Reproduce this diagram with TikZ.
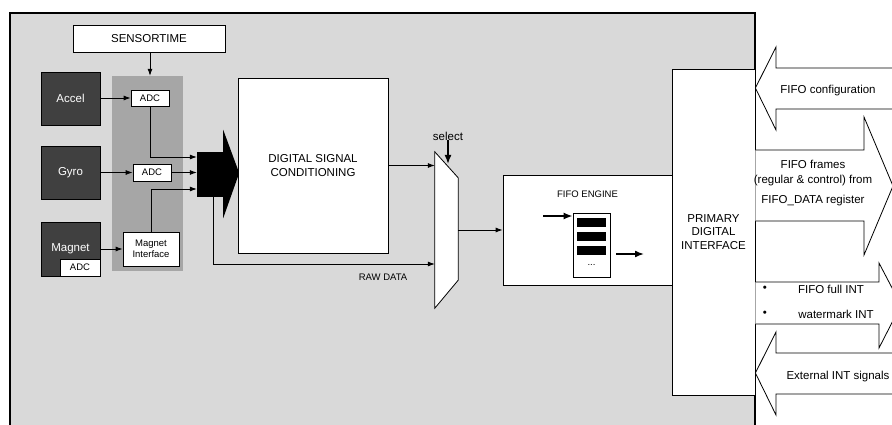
\documentclass[tikz,border=0pt]{standalone}
\usepackage{fontspec}
\setmainfont{Liberation Sans}
\usetikzlibrary{arrows.meta}
\definecolor{chipgrey}{RGB}{217,217,217}
\definecolor{panelgrey}{RGB}{166,166,166}
\definecolor{sensorgrey}{RGB}{64,64,64}
\newcommand{\bigfont}{\fontsize{11.5}{13.5}\selectfont}
\newcommand{\smallfont}{\fontsize{9.5}{11.5}\selectfont}

\begin{document}
\begin{tikzpicture}[x=1pt,y=-1pt,
        >={Latex[length=7pt,width=5pt]},
        every node/.style={inner sep=0pt, font=\bigfont},
        box/.style={draw, fill=white, line width=0.8pt},
        sensor/.style={box, fill=sensorgrey, text=white, minimum width=59pt, minimum height=53pt},
        adcbox/.style={box, font=\smallfont, minimum width=38pt, minimum height=16pt},
        bar/.style={fill=black, minimum width=29pt, minimum height=9pt},
        wire/.style={->, line width=0.8pt},
        fatwire/.style={-{Latex[length=9pt,width=7pt]}, line width=1.6pt},
        bigarrow/.style={draw, fill=white, line width=0.8pt}]
        \useasboundingbox (0,0) rectangle (892,425);
        % chip outline
        \draw[fill=chipgrey, line width=1.2pt] (10,440) -- (10,13) -- (755,13) -- (755,440);
        %\draw[help lines] (0,0) grid (892,425);
        \node[box, minimum width=152pt, minimum height=27pt] (sensortime) at (149,38.5) {SENSORTIME};
        \node[fill=panelgrey, minimum width=71pt, minimum height=195pt] (panel) at (147.5,173.5) {};
        % sensors
        \node[sensor] (accel) at (70.5,98.5) {Accel};
        \node[sensor] (gyro) at (70.5,172.5) {Gyro};
        \node[sensor, minimum height=54pt] (magnet) at (70.5,249) {Magnet};
        \node[adcbox, minimum width=40pt, minimum height=17pt, anchor=south east] (magadc) at (magnet.south east) {ADC};
        \node[adcbox] (adc1) at (150,98) {ADC};
        \node[adcbox, minimum height=17pt] (adc2) at (152,172.5) {ADC};
        \node[box, font=\smallfont, align=center, minimum width=56pt, minimum height=34pt] (magif) at (151,249) {Magnet\\Interface};
        % bus
        \node[fill=black, minimum width=26pt, minimum height=45pt] (bus) at (210,174.5) {};
        \fill ([yshift=22pt]bus.north east) -- ([xshift=16pt,yshift=1.5pt]bus.east) -- ([yshift=-21pt]bus.south east) -- cycle;
        \draw[wire] (sensortime.south -| adc1) -- (adc1 |- panel.north);
        \draw[wire] (accel.east |- adc1) -- (adc1.west);
        \draw[wire] (gyro.east |- adc2) -- (adc2.west);
        \draw[wire] (magnet.east |- magif) -- (magif.west);
        \draw[wire] (adc1.south) |- ([yshift=17.5pt]bus.west);
        \draw[wire] (adc2.east) -- (adc2 -| bus.west);
        \draw[wire] (magif.north) |- ([yshift=-14.5pt]bus.west);
        \node[box, align=center, minimum width=150pt, minimum height=175pt] (dsc) at (313,165.5) {DIGITAL SIGNAL\\CONDITIONING};
        % mux
        \node[minimum width=23pt, minimum height=156pt] (mux) at (446.5,230) {};
        \draw[box] (mux.north west) -- ([yshift=-26pt]mux.north east) -- ([yshift=28pt]mux.south east) -- (mux.south west) -- cycle;
        \node (select) at (448,136) {select};
        \coordinate (selin) at (448,164);
        \draw[fatwire] (select.south) -- (selin);
        \draw[wire] (dsc.east) -- (dsc.east -| mux.west);
        \draw[wire] ([xshift=3pt]bus.south) |- ([yshift=-34pt]mux.west);
        \node[font=\smallfont] (raw) at (383,277) {RAW DATA};
        % fifo engine
        \node[box, minimum width=169pt, minimum height=110pt] (fifo) at (587.5,230) {};
        \node[font=\smallfont] (fifolabel) at ([yshift=-20pt]fifo.north) {FIFO ENGINE};
        \draw[wire] (mux.east) -- (fifo.west);
        \node[box, minimum width=37pt, minimum height=64pt] (stack) at (591.5,245) {};
        \foreach \i/\y in {1/222.5, 2/236.5, 3/250.5}
            \node[bar] (bar\i) at (591.5,\y) {};
        \node[font=\smallfont] (dots) at (591.5,265) {...};
        \coordinate (fin) at (543,216);
        \coordinate (fout) at (644,254);
        \draw[fatwire] (fin) -- (fin -| stack.west);
        \draw[fatwire] ([xshift=6pt]stack.east |- fout) -- (fout);
        % host side
        \node[box, align=center, minimum width=83pt, minimum height=326pt] (pdi) at (713.5,232) {PRIMARY\\DIGITAL\\INTERFACE};
        \draw[bigarrow] (895,68) -- (776,68) -- (776,47) -- (pdi.east |- 0,88) -- (776,130) -- (776,109) -- (895,109);
        \draw[bigarrow] (pdi.east |- 0,150) -- (864,150) -- (864,117) -- (893,186) -- (864,255) -- (864,221) -- (pdi.east |- 0,221);
        \draw[bigarrow] (pdi.east |- 0,282) -- (879,282) -- (879,263) -- (901,305) -- (879,348) -- (879,324) -- (pdi.east |- 0,324);
        \draw[bigarrow] (895,353) -- (776,353) -- (776,332) -- (pdi.east |- 0,373) -- (776,415) -- (776,394) -- (895,394);
        \node (cfg) at (828,91) {FIFO configuration};
        \node[align=center, font=\fontsize{11.5}{15}\selectfont] (frames) at (813,183) {FIFO frames\\(regular \& control) from\\[5pt]FIFO\_DATA register};
        \node (bullet1) at (765,289) {\textbullet};
        \node (bullet2) at (765,314) {\textbullet};
        \node (full) at (831,289) {FIFO full INT};
        \node (wm) at (836,314) {watermark INT};
        \node (ext) at (838,377) {External INT signals};
    \end{tikzpicture}
\end{document}
